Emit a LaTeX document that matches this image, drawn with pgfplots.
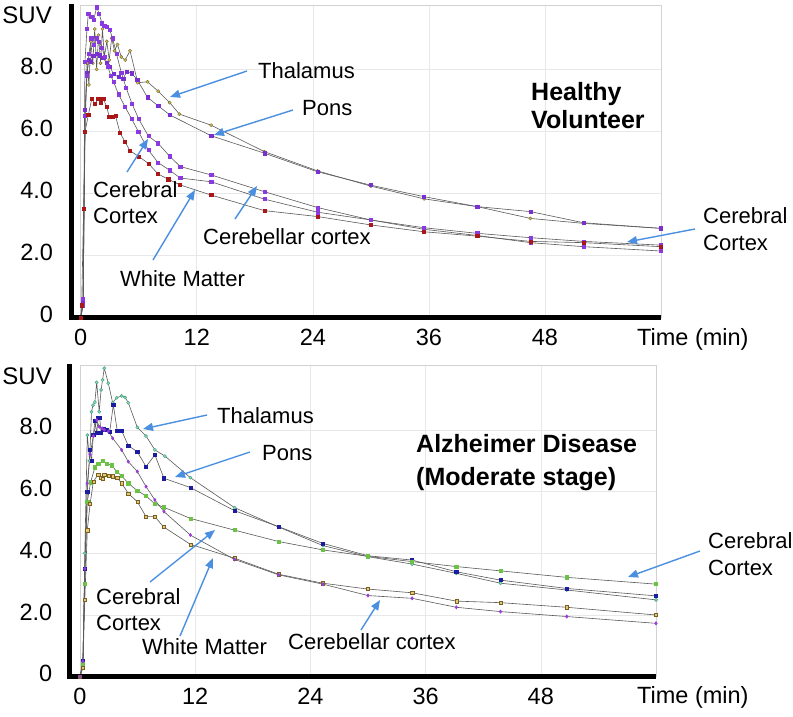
\documentclass[border=0pt]{standalone}
\usepackage{fontspec}
\setmainfont{Liberation Sans}
\usepackage{pgfplots}
\pgfplotsset{compat=1.18}
\usetikzlibrary{arrows.meta}
\definecolor{arrowblue}{HTML}{4A8FE0}
\definecolor{thalT}{HTML}{D2BE6A}
\definecolor{thalTd}{HTML}{7A6A20}
\definecolor{purp}{HTML}{8A3ADF}
\definecolor{purp2}{HTML}{7A2FD0}
\definecolor{wmred}{HTML}{A81818}
\definecolor{thalB}{HTML}{88DDB8}
\definecolor{thalBd}{HTML}{3C9C7A}
\definecolor{ponsB}{HTML}{1C1CA0}
\definecolor{ccB}{HTML}{6CC244}
\definecolor{wmB}{HTML}{E2C878}
\definecolor{wmBd}{HTML}{7A6020}
\definecolor{cbB}{HTML}{9A3ADC}
\pgfplotsset{
  panel/.style={
    scale only axis, xmin=0, xmax=60, ymin=0,
    xtick={0,12,24,36,48}, ytick={0,2,4,6,8},
    yticklabels={0,2.0,4.0,6.0,8.0},
    /pgf/number format/assume math mode=true,
    major tick length=0pt, tick style={draw=none},
    grid=major, major grid style={draw=gray!18, line width=0.6pt},
    axis line style={draw=gray!35, line width=0.6pt},
    tick label style={font=\fontsize{23.5}{24}\selectfont, inner sep=0pt},
    xticklabel style={yshift=-11pt},
    yticklabel style={xshift=-27.5pt, yshift=3pt},
    clip=false,
    every axis plot/.append style={line width=0.6pt, draw=black!65, mark size=1.6pt},
  }
}
\begin{document}
\begin{tikzpicture}[x=1pt,y=1pt]
\useasboundingbox (0,0) rectangle (793,716);
% ---------------- TOP PANEL ----------------
\begin{axis}[panel, at={(80.7pt,398.2pt)}, anchor=south west,
  width=580.3pt, height=312.1pt, ymax=10.05]
% Thalamus
\addplot[mark=*, mark options={fill=thalT, draw=thalTd, line width=0.4pt}] coordinates {
(0,0) (0.25,0.4) (0.45,6.0) (0.65,8.2) (0.85,7.5) (1.05,8.9) (1.25,8.2) (1.45,9.3)
(1.65,8.0) (1.85,9.1) (2.05,8.2) (2.25,9.3) (2.45,8.4) (2.7,8.9) (2.95,8.3) (3.2,9.0)
(3.5,8.6) (3.8,8.8) (4.2,8.4) (4.6,8.3) (5.1,8.6) (5.9,7.57) (6.9,7.6) (8.0,7.3)
(9.2,6.93) (10.2,6.56) (13.5,6.2) (19,5.35) (24.5,4.73) (30,4.24) (35.5,3.83)
(41,3.58) (46.5,3.2) (52,3.04) (60,2.88)};
% Pons
\addplot[mark=square*, mark options={fill=purp2, draw=purp2}] coordinates {
(0,0) (0.25,0.5) (0.45,6.7) (0.65,7.9) (0.85,8.3) (1.05,8.25) (1.3,8.43) (1.65,8.5)
(1.95,8.45) (2.34,8.36) (2.69,8.2) (3.0,8.09) (3.4,7.85) (3.9,7.75) (4.4,7.7)
(4.75,7.93) (5.27,7.87) (5.86,7.66) (6.9,7.1) (8.03,6.82) (9.23,6.53) (13.5,5.86)
(19,5.3) (24.5,4.7) (30,4.27) (35.5,3.9) (41,3.58) (46.5,3.42) (52,3.06) (60,2.88)};
% Cerebellar cortex
\addplot[mark=square*, mark options={fill=purp, draw=purp}] coordinates {
(0,0) (0.25,0.6) (0.44,8.25) (0.65,9.3) (0.79,9.8) (1.1,9.7) (1.35,9.6) (1.65,10.0)
(1.9,9.8) (2.2,9.48) (2.45,9.4) (2.69,9.37) (3.0,9.27) (3.3,9.0) (3.7,8.5) (4.2,7.9)
(4.7,7.4) (5.3,6.9) (6.0,6.4) (7.0,5.85) (8.0,5.62) (9.2,5.2) (10.3,4.87) (13.5,4.6)
(19,4.06) (24.5,3.55) (30,3.15) (35.5,2.9) (41,2.72) (46.5,2.58) (52,2.46) (60,2.34)};
% Cerebral cortex
\addplot[mark=square*, mark options={fill=purp, draw=purp}] coordinates {
(0,0) (0.25,0.4) (0.44,6.5) (0.65,7.8) (0.85,8.5) (1.1,9.0) (1.35,8.8) (1.65,9.0)
(1.9,8.9) (2.2,8.7) (2.5,8.4) (2.8,8.1) (3.1,7.8) (3.4,7.6) (3.9,7.2) (4.58,6.8)
(5.27,6.4) (5.96,6.0) (7.0,5.4) (8.0,5.0) (9.2,4.75) (10.3,4.5) (13.5,4.38) (19,3.82)
(24.5,3.40) (30,3.15) (35.5,2.85) (41,2.65) (46.5,2.42) (52,2.29) (60,2.15)};
% White matter
\addplot[mark=square*, mark options={fill=wmred, draw=wmred}] coordinates {
(0,0) (0.1,0.4) (0.3,3.5) (0.45,6.0) (0.79,6.53) (1.14,7.04) (1.48,6.9) (1.82,7.04)
(2.06,6.93) (2.34,7.04) (2.69,6.8) (2.96,6.46) (3.3,6.48) (3.6,6.5) (4.06,5.96)
(4.58,5.67) (5.1,5.38) (6.03,5.19) (7.0,4.97) (8.0,4.63) (9.06,4.46) (10.27,4.28)
(13.5,3.95) (19,3.45) (24.5,3.26) (30,2.99) (35.5,2.77) (41,2.63) (46.5,2.46)
(52,2.42) (60,2.29)};
\draw[line width=5pt, black] (axis cs:-1,10.1) |- (axis cs:60,0);
\end{axis}
% ---------------- BOTTOM PANEL ----------------
\begin{axis}[panel, at={(80pt,39.3pt)}, anchor=south west,
  width=576pt, height=311pt, ymax=10.08]
% Thalamus
\addplot[mark=*, mark options={fill=thalB, draw=thalBd, line width=0.4pt}] coordinates {
(0,0) (0.3,0.3) (0.5,4.0) (0.76,7.83) (1.0,7.0) (1.2,8.59) (1.35,8.8) (1.55,8.9)
(1.74,9.54) (2.0,8.59) (2.2,9.3) (2.35,9.62) (2.53,10.0) (2.95,9.51) (3.4,8.88)
(3.82,9.04) (4.34,9.1) (4.7,9.05) (5.03,8.88) (5.97,8.08) (6.88,7.8) (7.8,7.35)
(8.85,7.15) (11.5,6.45) (16.1,5.48) (20.7,4.85) (25.3,4.25) (30,3.89) (34.6,3.65)
(39.2,3.35) (43.8,3.03) (50.7,2.81) (60,2.49)};
% Pons
\addplot[mark=square*, mark options={fill=ponsB, draw=ponsB}] coordinates {
(0,0) (0.3,0.5) (0.5,3.5) (0.76,6.0) (1.04,7.35) (1.2,7.0) (1.39,7.83) (1.55,8.3)
(1.74,7.9) (1.9,8.38) (2.05,8.4) (2.2,7.9) (2.43,8.02) (2.75,8.0) (3.1,7.95)
(3.47,8.81) (3.88,7.97) (4.34,7.97) (5.03,7.49) (5.97,7.29) (6.88,6.81) (7.8,7.19)
(8.75,6.43) (11.5,6.13) (16.1,5.38) (20.7,4.86) (25.3,4.32) (30,3.92) (34.6,3.78)
(39.2,3.4) (43.8,3.13) (50.7,2.86) (60,2.62)};
% Cerebral cortex
\addplot[mark=square*, mark options={fill=ccB, draw=ccB}] coordinates {
(0,0) (0.3,0.4) (0.5,3.0) (0.76,5.67) (1.1,6.3) (1.56,6.79) (1.9,6.9) (2.35,6.99)
(2.78,6.9) (3.3,6.85) (3.82,6.65) (4.34,6.51) (5.03,6.27) (5.97,6.03) (6.88,5.86)
(7.8,5.6) (8.75,5.49) (11.5,5.13) (16.1,4.75) (20.7,4.38) (25.3,4.11) (30,3.9)
(34.6,3.73) (39.2,3.57) (43.8,3.43) (50.7,3.22) (60,3.0)};
% White matter
\addplot[mark=square*, mark options={fill=wmB, draw=wmBd, line width=0.4pt}] coordinates {
(0,0) (0.3,0.3) (0.5,2.5) (0.76,4.75) (1.05,5.6) (1.39,6.32) (1.9,6.56) (2.2,6.45)
(2.35,6.41) (2.53,6.54) (2.95,6.51) (3.4,6.5) (3.88,6.45) (4.34,6.27) (5.03,5.94)
(5.97,5.67) (6.88,5.19) (7.8,5.19) (8.68,4.86) (11.5,4.29) (16.1,3.84) (20.7,3.32)
(25.3,3.03) (30,2.84) (34.6,2.72) (39.2,2.45) (43.8,2.4) (50.7,2.25) (60,2.0)};
% Cerebellar cortex
\addplot[mark=diamond*, mark options={fill=cbB, draw=cbB}] coordinates {
(0,0) (0.3,0.5) (0.5,3.5) (0.76,6.27) (1.05,7.2) (1.39,7.8) (1.74,8.32) (2.0,8.1)
(2.3,8.05) (2.53,8.0) (2.95,7.95) (3.4,7.73) (4.34,7.35) (5.03,6.97) (5.97,6.65)
(6.88,6.16) (7.8,5.73) (8.75,5.35) (11.5,4.59) (16.1,3.8) (20.7,3.3) (25.3,3.0)
(30,2.63) (34.6,2.54) (39.2,2.25) (43.8,2.11) (50.7,1.95) (60,1.73)};
\draw[line width=5pt, black] (axis cs:-1.1,10.12) |- (axis cs:60,0);
\end{axis}
% ---------------- ANNOTATIONS ----------------
\begin{scope}[shift={(0,716)}, x=1pt, y=-1pt,
  lab/.style={anchor=base west, inner sep=0pt, font=\fontsize{22}{26}\selectfont},
  ttl/.style={anchor=base west, inner sep=0pt, font=\fontsize{25}{28}\bfseries\selectfont},
  arr/.style={draw=arrowblue, line width=1.4pt, -{Triangle[length=10pt,width=8pt]}}]
% axis titles
\node[anchor=base east, inner sep=0pt, font=\fontsize{24}{26}\selectfont] at (52,24) {SUV};
\node[anchor=base east, inner sep=0pt, font=\fontsize{24}{26}\selectfont] at (52,385) {SUV};
\node[anchor=base west, inner sep=0pt, font=\fontsize{23.5}{26}\selectfont] at (637,346) {Time (min)};
\node[anchor=base west, inner sep=0pt, font=\fontsize{23.5}{26}\selectfont] at (637,703) {Time (min)};
% top labels
\node[lab] at (258,79) {Thalamus};
\node[lab] at (302,116) {Pons};
\node[ttl] at (531,101) {Healthy};
\node[ttl] at (531,129) {Volunteer};
\node[lab] at (93,198) {Cerebral};
\node[lab] at (93,224) {Cortex};
\node[lab] at (203,245) {Cerebellar cortex};
\node[lab] at (120,287) {White Matter};
\node[lab] at (703,224) {Cerebral};
\node[lab] at (703,251) {Cortex};
\draw[arr] (247,71) -- (170,97);
\draw[arr] (293,110) -- (214,135);
\draw[arr] (127,172) -- (148,139);
\draw[arr] (153,260) -- (195,190);
\draw[arr] (235,219) -- (257,186);
\draw[arr] (695,229) -- (627,242);
% bottom labels
\node[lab] at (217,424) {Thalamus};
\node[lab] at (262,460) {Pons};
\node[ttl] at (416,453) {Alzheimer Disease};
\node[ttl] at (416,485) {(Moderate stage)};
\node[lab] at (708,548) {Cerebral};
\node[lab] at (708,575) {Cortex};
\node[lab] at (96,604) {Cerebral};
\node[lab] at (96,630) {Cortex};
\node[lab] at (142,654) {White Matter};
\node[lab] at (288,649) {Cerebellar cortex};
\draw[arr] (207,415) -- (143,429);
\draw[arr] (250,452) -- (175,477);
\draw[arr] (700,551) -- (628,577);
\draw[arr] (150,582) -- (215,530);
\draw[arr] (180,636) -- (213,558);
\draw[arr] (361,630) -- (380,600);
\end{scope}
\end{tikzpicture}
\end{document}
